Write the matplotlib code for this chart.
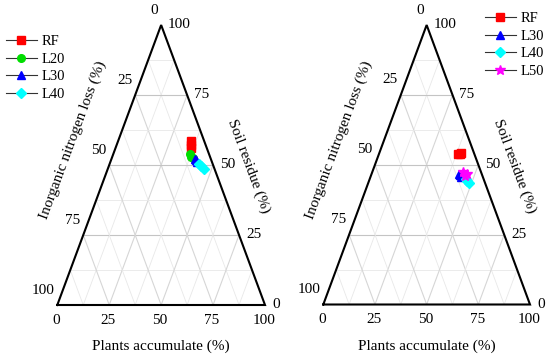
import numpy as np
import matplotlib.pyplot as plt
from matplotlib.lines import Line2D
from matplotlib.transforms import offset_copy

plt.rcParams['font.family'] = ['Liberation Serif', 'DejaVu Serif']

# ternary data: plants accumulate (P), inorganic N loss (N), soil residue (S), in %
left_names = ['RF', 'L20', 'L30', 'L40']
left_P = [[35.0, 35.6, 36.2], [37.1, 38.0, 38.9], [40.2, 40.9, 41.6], [43.0, 44.6, 46.3]]
left_S = [[58.5, 57.3, 56.2], [54.0, 53.0, 52.4], [52.3, 51.7, 51.2], [50.4, 49.5, 48.6]]

right_names = ['RF', 'L30', 'L40', 'L50']
right_P = [[38.2, 38.9, 39.5], [42.5, 43.2, 43.8], [46.6, 47.6, 48.7], [43.9, 45.5, 46.2]]
right_S = [[53.9, 54.0, 54.2], [46.7, 46.2, 45.6], [44.9, 44.3, 43.6], [47.4, 46.0, 46.7]]

styles = {'RF': ('s', 'red'), 'L20': ('o', '#00dd00'), 'L30': ('^', 'blue'),
          'L40': ('D', 'cyan'), 'L50': ('*', 'magenta')}

ticks = [0, 25, 50, 75, 100]

W, H = 550, 360
fig = plt.figure(figsize=(W / 100, H / 100), dpi=100)


def tern(P, S):
    P = np.asarray(P, float)
    S = np.asarray(S, float)
    return P + S / 2, S


def draw_panel(rect, names, Ps, Ss, leg_anchor):
    ax = fig.add_axes(rect)
    ax.set_xlim(0, 100)
    ax.set_ylim(0, 100)
    ax.axis('off')
    # grid
    for v in np.arange(12.5, 100, 12.5):
        major = v % 25 == 0
        ch = '#c4c4c4' if major else '#e8e8e8'
        cd = '#d6d6d6' if major else '#e8e8e8'
        lw = 0.8 if major else 0.6
        # const S
        ax.plot(*tern([0, 100 - v], [v, v]), color=ch, lw=lw, zorder=1)
        # const P
        ax.plot(*tern([v, v], [0, 100 - v]), color=cd, lw=lw, zorder=1)
        # const N
        ax.plot(*tern([100 - v, 0], [0, 100 - v]), color=cd, lw=lw, zorder=1)
    ax.plot(*tern([0, 100, 0, 0], [0, 0, 100, 0]), color='black', lw=1.5,
            zorder=3, clip_on=False, solid_joinstyle='miter')

    handles = []
    for n, p, s in zip(names, Ps, Ss):
        m, c = styles[n]
        ms = 7.5 if m == '*' else 5.5
        ax.plot(*tern(p, s), ls='none', marker=m, color=c, ms=ms,
                mec=c, zorder=4, clip_on=False)
        handles.append(Line2D([], [], color='#333333', lw=0.8, marker=m,
                              mfc=c, mec=c, ms=ms, label=n))

    # tick labels
    tb = offset_copy(ax.transData, fig=fig, x=-1, y=-15, units='dots')
    tr = offset_copy(ax.transData, fig=fig, x=7, y=0, units='dots')
    tl = offset_copy(ax.transData, fig=fig, x=-3, y=15, units='dots')
    for t in ticks:
        x, y = tern(t, 0)
        ax.text(x, y, str(t), transform=tb, ha='center', va='center', fontsize=11)
        x, y = tern(100 - t, t)
        ax.text(x, y, str(t), transform=tr, ha='left', va='center', fontsize=11)
        x, y = tern(0, 100 - t)
        ax.text(x, y, str(t), transform=tl, ha='right', va='center', fontsize=11)

    fig.legend(handles=handles, loc='upper left', bbox_to_anchor=leg_anchor,
               frameon=False, fontsize=10.5, handlelength=2.1, handletextpad=0.35,
               labelspacing=0.3, borderpad=0, borderaxespad=0)
    return ax


def px(x, y):
    return x / W, 1 - y / H


draw_panel([57.3 / W, 1 - 305 / H, 207.7 / W, 280 / H],
           left_names, left_P, left_S, px(6, 35))
draw_panel([323.3 / W, 1 - 304.5 / H, 206.7 / W, 279.5 / H],
           right_names, right_P, right_S, px(485, 12))

ang = np.degrees(np.arctan2(280, 104))
for ox in (0, 265.7):
    fig.text(*px(73 + ox, 140), 'Inorganic nitrogen loss (%)', rotation=ang,
             ha='center', va='center', fontsize=11, rotation_mode='anchor')
    fig.text(*px(249 + ox, 166), 'Soil residue (%)', rotation=-ang,
             ha='center', va='center', fontsize=11, rotation_mode='anchor')
    fig.text(*px(161 + ox, 346), 'Plants accumulate (%)',
             ha='center', va='center', fontsize=11)

fig.savefig('out.png', dpi=100)
